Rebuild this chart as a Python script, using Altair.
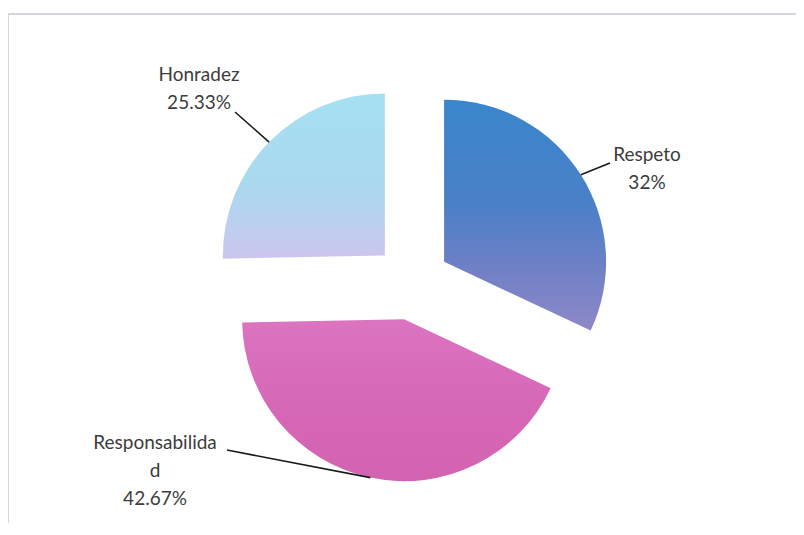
import math
import altair as alt
import pandas as pd

# ---- data ----
categories = ["Respeto", "Responsabilidad", "Honradez"]
percentages = [32.0, 42.67, 25.33]
label_names = ["Respeto", "Responsabilida\nd", "Honradez"]

# ---- layout (pixels) ----
CX, CY = 404, 274          # pie centre
R = 162                    # radius
EXPLODE = 38               # slice explosion distance
label_x = [639, 147, 191]
label_y = [147, 435, 67]   # first text line
leader_end_x = [602, 219, 227]
leader_end_y = [155, 442, 104]

gradients = {
    "Respeto": [("#3a86cc", 0.0), ("#4a80c8", 0.45), ("#6e80c6", 0.72), ("#8e89c8", 1.0)],
    "Responsabilidad": [("#dc74c0", 0.0), ("#d668b8", 0.5), ("#d263b0", 1.0)],
    "Honradez": [("#a6e0f2", 0.0), ("#aad9ef", 0.55), ("#cbc6ee", 1.0)],
}

df = pd.DataFrame({
    "order": list(range(len(categories))),
    "category": categories,
    "value": percentages,
    "name": label_names,
    "lx": label_x,
    "ly": label_y,
    "ex": leader_end_x,
    "ey": leader_end_y,
})

base = alt.Chart(df).transform_window(
    cum="sum(value)", sort=[alt.SortField("order")]
).transform_calculate(
    start="datum.cum - datum.value",
    mid="(datum.cum - datum.value / 2) / 100 * 2 * PI",
).transform_calculate(
    cx=f"{CX} + {EXPLODE} * sin(datum.mid)",
    cy=f"{CY} - {EXPLODE} * cos(datum.mid)",
).transform_calculate(
    sx=f"datum.cx + {R} * sin(datum.mid)",
    sy=f"datum.cy - {R} * cos(datum.mid)",
    label="datum.name + '\\n' + datum.value + '%'",
)

theta_scale = alt.Scale(domain=[0, 100], range=[0, 2 * math.pi])

layers = []
for cat in categories:
    grad = alt.Gradient(
        gradient="linear",
        stops=[alt.GradientStop(color=c, offset=o) for c, o in gradients[cat]],
        x1=0, x2=0, y1=0, y2=1,
    )
    layers.append(
        base.transform_filter(alt.datum.category == cat)
        .mark_arc(outerRadius=R, fill=grad)
        .encode(
            x=alt.X("cx:Q", scale=None, axis=None),
            y=alt.Y("cy:Q", scale=None, axis=None),
            theta=alt.Theta("start:Q", scale=theta_scale, stack=None),
            theta2=alt.Theta2("cum:Q"),
        )
    )

leaders = base.mark_rule(color="#1a1a1a", strokeWidth=1.6).encode(
    x=alt.X("sx:Q", scale=None, axis=None),
    y=alt.Y("sy:Q", scale=None, axis=None),
    x2="ex:Q",
    y2="ey:Q",
)

labels = base.mark_text(
    font="Lato", fontSize=19, color="#3c3c3c", align="center",
    baseline="middle", lineBreak="\n", lineHeight=28,
).encode(
    x=alt.X("lx:Q", scale=None, axis=None),
    y=alt.Y("ly:Q", scale=None, axis=None),
    text="label:N",
)

border_top = alt.Chart(df).mark_rule(color="#d3d6de", strokeWidth=1.5).encode(
    x=alt.value(0), x2=alt.value(800), y=alt.value(6)
)
border_left = alt.Chart(df).mark_rule(color="#d3d6de", strokeWidth=1.5).encode(
    x=alt.value(0), y=alt.value(6), y2=alt.value(530)
)

chart = alt.layer(border_top, border_left, *layers, leaders, labels).properties(
    width=788, height=515, padding=0, autosize=alt.AutoSizeParams(type="none"),
    background="white",
).configure_view(stroke=None)

chart.save("out.html", embed_options={"renderer": "svg", "actions": False})
